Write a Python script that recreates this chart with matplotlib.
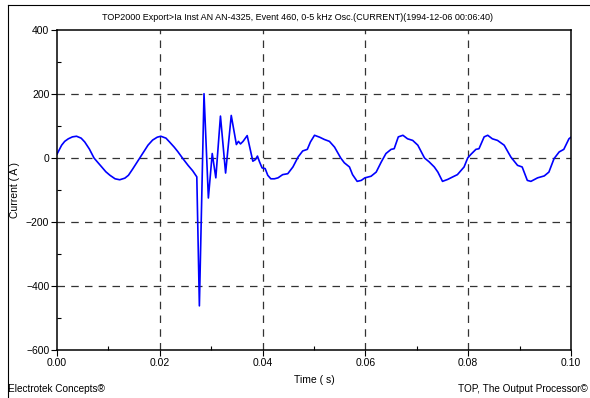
import matplotlib
matplotlib.use("Agg")
from matplotlib import pyplot as plt
from matplotlib.lines import Line2D
from matplotlib.ticker import MultipleLocator

plt.rcParams['font.family'] = ['Liberation Sans', 'DejaVu Sans']

# waveform
time_s = [0.0, 0.0009, 0.0015, 0.0022, 0.0030, 0.0038, 0.0047, 0.0054, 0.0063, 0.0072,
          0.0080, 0.0087, 0.0095, 0.0103, 0.0113, 0.0122, 0.0132, 0.0139, 0.0147, 0.0161,
          0.0169, 0.0177, 0.0186, 0.0195, 0.0202, 0.0212, 0.0219, 0.0228, 0.0235, 0.0244,
          0.0255, 0.0264, 0.0272, 0.0277, 0.0286, 0.02945, 0.0302, 0.0309, 0.0318, 0.0328,
          0.0339, 0.0349, 0.0353, 0.0357, 0.0362, 0.0370, 0.0381, 0.0386, 0.0390, 0.0394,
          0.0399, 0.0405, 0.0410, 0.0416, 0.0423, 0.0430, 0.0439, 0.0449, 0.0459, 0.0469,
          0.0478, 0.0487, 0.0493, 0.0501, 0.0511, 0.0520, 0.0530, 0.0540, 0.0552, 0.0559,
          0.0569, 0.0575, 0.0584, 0.0592, 0.0599, 0.0611, 0.0621, 0.0631, 0.0640, 0.0650,
          0.0656, 0.0664, 0.0673, 0.0682, 0.0692, 0.0702, 0.0715, 0.0724, 0.0734, 0.0741,
          0.0750, 0.0760, 0.0770, 0.0779, 0.0792, 0.0799, 0.0805, 0.0815, 0.0821, 0.0831,
          0.0838, 0.0847, 0.0857, 0.0870, 0.0883, 0.0896, 0.0905, 0.0915, 0.0922, 0.0935,
          0.0948, 0.0957, 0.0967, 0.0977, 0.0986, 0.0996, 0.1000]
current_a = [12, 40, 52, 60, 66, 68, 62, 50, 28, 0,
             -15, -28, -43, -54, -65, -68, -63, -54, -35, 0,
             20, 40, 56, 65, 68, 62, 50, 34, 20, 0,
             -23, -40, -59, -462, 201, -125, 14, -62, 131, -47,
             133, 42, 52, 44, 52, 70, -10, -5, 6, -12,
             -31, -33, -54, -65, -65, -62, -52, -49, -28, 3,
             22, 27, 50, 71, 65, 58, 52, 34, 0, -15,
             -28, -52, -73, -70, -62, -57, -44, -12, 14, 27,
             29, 66, 71, 60, 55, 40, 0, -12, -28, -44,
             -73, -67, -59, -52, -28, 0, 11, 27, 29, 66,
             71, 60, 55, 40, 3, -23, -28, -70, -73, -62,
             -56, -44, -2, 19, 27, 60, 65]

title = "TOP2000 Export>Ia Inst AN AN-4325, Event 460, 0-5 kHz Osc.(CURRENT)(1994-12-06 00:06:40)"

fig = plt.figure(figsize=(5.9, 3.98), dpi=100)
ax = fig.add_axes([57/590, 1-350/398, (571-57)/590, 320/398])

ax.plot(time_s, current_a, color="#0000ff", linewidth=1.2)

ax.set_xlim(0, 0.1)
ax.set_ylim(-600, 400)
ax.set_xticks([0.0, 0.02, 0.04, 0.06, 0.08, 0.10])
ax.set_xticklabels(["0.00", "0.02", "0.04", "0.06", "0.08", "0.10"])
ax.set_yticks([-600, -400, -200, 0, 200, 400])
ax.xaxis.set_minor_locator(MultipleLocator(0.01))
ax.yaxis.set_minor_locator(MultipleLocator(100))
ax.tick_params(which="major", direction="out", length=4, width=0.8, labelsize=7.5, pad=1.5)
ax.tick_params(which="minor", direction="in", length=3, width=0.8)

# dashed grid only inside
for gx in [0.02, 0.04, 0.06, 0.08]:
    ax.axvline(gx, color="#333333", linestyle=(0, (6, 5)), linewidth=0.9, zorder=0)
for gy in [-400, -200, 0, 200]:
    ax.axhline(gy, color="#333333", linestyle=(0, (6, 5)), linewidth=0.9, zorder=0)

for s in ax.spines.values():
    s.set_linewidth(1.1)

ax.set_xlabel("Time ( s)", fontsize=7.5, labelpad=5)
ax.set_ylabel("Current ( A )", fontsize=7.5, labelpad=4)

fig.text(298/590, 1-17/398, title, ha="center", va="center", fontsize=6.5)
fig.text(8/590, 1-389/398, "Electrotek Concepts®", ha="left", va="center", fontsize=7.2)
fig.text(588/590, 1-389/398, "TOP, The Output Processor©", ha="right", va="center", fontsize=7.2)

# outer frame (top and left only visible)
fig.add_artist(Line2D([8/590, 1.0], [1-5/398, 1-5/398], color="black", linewidth=0.8))
fig.add_artist(Line2D([8/590, 8/590], [0.0, 1-5/398], color="black", linewidth=0.8))

fig.savefig("out.png", dpi=100)
